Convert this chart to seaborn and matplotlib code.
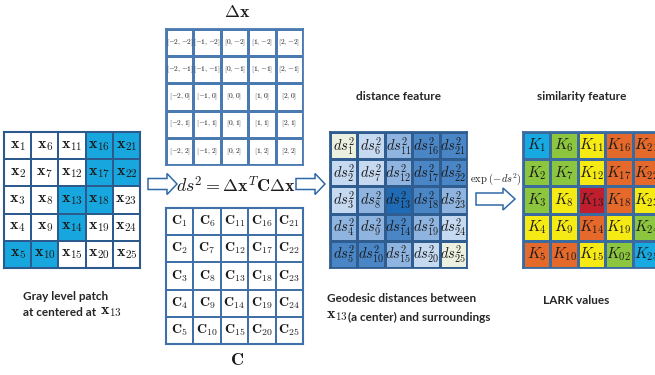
import numpy as np
import matplotlib
matplotlib.use("Agg")
import matplotlib.pyplot as plt
from matplotlib.colors import ListedColormap
from matplotlib.patches import Polygon
import seaborn as sns

# ---- data -------------------------------------------------------------
patch_labels = [
    [r"$\mathbf{x}_{1}$", r"$\mathbf{x}_{6}$", r"$\mathbf{x}_{11}$", r"$\mathbf{x}_{16}$", r"$\mathbf{x}_{21}$"],
    [r"$\mathbf{x}_{2}$", r"$\mathbf{x}_{7}$", r"$\mathbf{x}_{12}$", r"$\mathbf{x}_{17}$", r"$\mathbf{x}_{22}$"],
    [r"$\mathbf{x}_{3}$", r"$\mathbf{x}_{8}$", r"$\mathbf{x}_{13}$", r"$\mathbf{x}_{18}$", r"$\mathbf{x}_{23}$"],
    [r"$\mathbf{x}_{4}$", r"$\mathbf{x}_{9}$", r"$\mathbf{x}_{14}$", r"$\mathbf{x}_{19}$", r"$\mathbf{x}_{24}$"],
    [r"$\mathbf{x}_{5}$", r"$\mathbf{x}_{10}$", r"$\mathbf{x}_{15}$", r"$\mathbf{x}_{20}$", r"$\mathbf{x}_{25}$"],
]
# gray level patch: 1 = bright pixel, 0 = dark pixel
patch_level = [
    [0, 0, 0, 1, 1],
    [0, 0, 0, 1, 1],
    [0, 0, 1, 1, 0],
    [0, 0, 1, 0, 0],
    [1, 1, 0, 0, 0],
]

offset_labels = [
    [r"$[{-}2,{-}2]$", r"$[{-}1,{-}2]$", r"$[0,{-}2]$", r"$[1,{-}2]$", r"$[2,{-}2]$"],
    [r"$[{-}2,{-}1]$", r"$[{-}1,{-}1]$", r"$[0,{-}1]$", r"$[1,{-}1]$", r"$[2,{-}1]$"],
    [r"$[{-}2,0]$", r"$[{-}1,0]$", r"$[0,0]$", r"$[1,0]$", r"$[2,0]$"],
    [r"$[{-}2,1]$", r"$[{-}1,1]$", r"$[0,1]$", r"$[1,1]$", r"$[2,1]$"],
    [r"$[{-}2,2]$", r"$[{-}1,2]$", r"$[0,2]$", r"$[1,2]$", r"$[2,2]$"],
]

cov_labels = [
    [r"$\mathbf{C}_{1}$", r"$\mathbf{C}_{6}$", r"$\mathbf{C}_{11}$", r"$\mathbf{C}_{16}$", r"$\mathbf{C}_{21}$"],
    [r"$\mathbf{C}_{2}$", r"$\mathbf{C}_{7}$", r"$\mathbf{C}_{12}$", r"$\mathbf{C}_{17}$", r"$\mathbf{C}_{22}$"],
    [r"$\mathbf{C}_{3}$", r"$\mathbf{C}_{8}$", r"$\mathbf{C}_{13}$", r"$\mathbf{C}_{18}$", r"$\mathbf{C}_{23}$"],
    [r"$\mathbf{C}_{4}$", r"$\mathbf{C}_{9}$", r"$\mathbf{C}_{14}$", r"$\mathbf{C}_{19}$", r"$\mathbf{C}_{24}$"],
    [r"$\mathbf{C}_{5}$", r"$\mathbf{C}_{10}$", r"$\mathbf{C}_{15}$", r"$\mathbf{C}_{20}$", r"$\mathbf{C}_{25}$"],
]

dist_labels = [
    [r"$ds^2_{1}$", r"$ds^2_{6}$", r"$ds^2_{11}$", r"$ds^2_{16}$", r"$ds^2_{21}$"],
    [r"$ds^2_{2}$", r"$ds^2_{7}$", r"$ds^2_{12}$", r"$ds^2_{17}$", r"$ds^2_{22}$"],
    [r"$ds^2_{3}$", r"$ds^2_{8}$", r"$ds^2_{13}$", r"$ds^2_{18}$", r"$ds^2_{23}$"],
    [r"$ds^2_{4}$", r"$ds^2_{9}$", r"$ds^2_{14}$", r"$ds^2_{19}$", r"$ds^2_{24}$"],
    [r"$ds^2_{5}$", r"$ds^2_{10}$", r"$ds^2_{15}$", r"$ds^2_{20}$", r"$ds^2_{25}$"],
]
# distance level, 0 = smallest shade .. 4 = strongest shade
dist_level = [
    [0, 1, 2, 3, 3],
    [1, 1, 2, 3, 3],
    [1, 2, 4, 3, 2],
    [2, 2, 3, 2, 1],
    [3, 3, 2, 1, 0],
]

sim_labels = [
    [r"$K_{1}$", r"$K_{6}$", r"$K_{11}$", r"$K_{16}$", r"$K_{21}$"],
    [r"$K_{2}$", r"$K_{7}$", r"$K_{12}$", r"$K_{17}$", r"$K_{22}$"],
    [r"$K_{3}$", r"$K_{8}$", r"$K_{13}$", r"$K_{18}$", r"$K_{23}$"],
    [r"$K_{4}$", r"$K_{9}$", r"$K_{14}$", r"$K_{19}$", r"$K_{24}$"],
    [r"$K_{5}$", r"$K_{10}$", r"$K_{15}$", r"$K_{02}$", r"$K_{25}$"],
]
# LARK value class: 0 blue, 1 green, 2 yellow, 3 orange, 4 red
sim_level = [
    [0, 1, 2, 3, 3],
    [1, 1, 2, 3, 3],
    [1, 2, 4, 3, 2],
    [2, 2, 3, 2, 1],
    [3, 3, 2, 1, 0],
]

# ---- style ------------------------------------------------------------
sns.set_style("white")
plt.rcParams["font.family"] = ["Lato", "DejaVu Sans"]
plt.rcParams["mathtext.fontset"] = "cm"

W, H = 655, 375
fig = plt.figure(figsize=(W / 100, H / 100), dpi=100)

bg = fig.add_axes([0, 0, 1, 1], zorder=0)
bg.set_xlim(0, W)
bg.set_ylim(H, 0)
bg.axis("off")

INK = "#1c1c1c"
LABEL = "#262626"


def grid_axes(x0, y0, x1, y1):
    return fig.add_axes([x0 / W, 1 - y1 / H, (x1 - x0) / W, (y1 - y0) / H], zorder=2)


def draw_grid(ax, levels, labels, colors, size, lw=1.0, edge="#35679f"):
    n = len(colors)
    sns.heatmap(np.array(levels), ax=ax, cmap=ListedColormap(colors),
                vmin=-0.5, vmax=n - 0.5, annot=np.array(labels), fmt="",
                cbar=False, linewidths=lw, linecolor=edge,
                xticklabels=False, yticklabels=False,
                annot_kws={"fontsize": size, "color": INK})
    for s in ax.spines.values():
        s.set_visible(True)
        s.set_color(edge)
        s.set_linewidth(lw + 0.3)


# gray level patch
ax1 = grid_axes(4, 132, 140, 268)
draw_grid(ax1, patch_level, patch_labels, ["#ffffff", "#17a6de"], 11.5, lw=1.2, edge="#2d5a8c")

# offsets
ax2 = grid_axes(166, 29, 303, 165)
draw_grid(ax2, np.zeros((5, 5), dtype=int), offset_labels, ["#ffffff"], 5.4, lw=1.0, edge="#4a7ab0")

# covariance
ax3 = grid_axes(166, 208, 303, 344)
draw_grid(ax3, np.zeros((5, 5), dtype=int), cov_labels, ["#ffffff"], 10, lw=1.2, edge="#3f70a8")

# distance feature
ax4 = grid_axes(330, 132, 467, 268)
draw_grid(ax4, dist_level, dist_labels,
          ["#ebf1de", "#c5d9f1", "#8fb4e0", "#4a85c6", "#1f6bb5"], 10.5, lw=1.0, edge="#2f5d90")

# similarity feature (the rightmost column runs past the figure edge)
ax5 = grid_axes(523, 132, 660, 268)
draw_grid(ax5, sim_level, sim_labels,
          ["#17a9e1", "#8cc63e", "#f6ea14", "#e4692a", "#be1e2d"], 11, lw=1.0, edge="#3a6a9e")


# ---- hollow block arrows ---------------------------------------------
def block_arrow(x0, x1, yc, shaft, head, head_len):
    xb = x1 - head_len
    pts = [(x0, yc - shaft), (xb, yc - shaft), (xb, yc - head), (x1, yc),
           (xb, yc + head), (xb, yc + shaft), (x0, yc + shaft)]
    bg.add_patch(Polygon(pts, closed=True, facecolor="white",
                         edgecolor="#2f6aa8", linewidth=1.1, zorder=1))


block_arrow(148, 177, 184, 5.5, 10.5, 10)
block_arrow(296, 325, 184, 5.5, 10.5, 10)
block_arrow(476, 515, 199, 6, 11, 12)

# ---- text ---------------------------------------------------------------
bg.text(237, 12, r"$\Delta\mathbf{x}$", fontsize=13, ha="center", va="center", color=INK)
bg.text(237, 360, r"$\mathbf{C}$", fontsize=13, ha="center", va="center", color=INK)
bg.text(236, 185, r"$ds^2=\Delta\mathbf{x}^T\mathbf{C}\Delta\mathbf{x}$", fontsize=13,
        ha="center", va="center", color=INK)
bg.text(496, 179, r"$\exp\,(-ds^2)$", fontsize=7.5, ha="center", va="center", color=INK)

bg.text(398, 96, "distance feature", fontsize=8.5, fontweight="bold", ha="center", va="center", color=LABEL)
bg.text(582, 96, "similarity feature", fontsize=8.5, fontweight="bold", ha="center", va="center", color=LABEL)

bg.text(23, 296, "Gray level patch", fontsize=8.5, fontweight="bold", ha="left", va="center", color=LABEL)
bg.text(23, 313, "at centered at", fontsize=8.5, fontweight="bold", ha="left", va="center", color=LABEL)
bg.text(100, 312, r"$\mathbf{x}_{13}$", fontsize=11.5, ha="left", va="center", color=INK)

bg.text(327, 299, "Geodesic distances between", fontsize=8.5, fontweight="bold", ha="left", va="center", color=LABEL)
bg.text(326, 316, r"$\mathbf{x}_{13}$", fontsize=11.5, ha="left", va="center", color=INK)
bg.text(348, 317, "(a center) and surroundings", fontsize=8.5, fontweight="bold", ha="left", va="center", color=LABEL)

bg.text(543, 301, "LARK values", fontsize=8.5, fontweight="bold", ha="left", va="center", color=LABEL)

fig.savefig("out.png", dpi=100)
